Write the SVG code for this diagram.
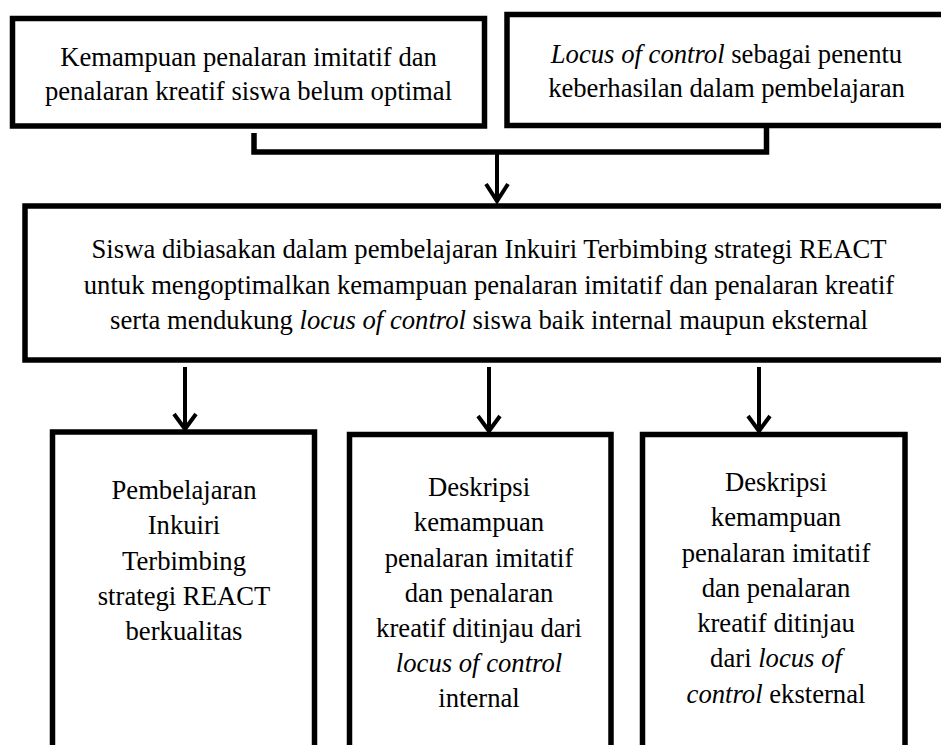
<svg xmlns="http://www.w3.org/2000/svg" width="941" height="745" viewBox="0 0 941 745">
<style>
.box{fill:#fff;stroke:#000;stroke-width:5.5}
.t{font-family:"Liberation Serif","Times New Roman",serif;font-size:26.67px;fill:#000;text-anchor:middle}
.i{font-style:italic}
.con{fill:none;stroke:#000}
.br{stroke-width:5.5;stroke-linejoin:miter}
.ar{stroke-width:4}
.hd{stroke-width:4;stroke-linejoin:miter}
</style>
<rect width="941" height="745" fill="#fff"/>
<g id="connectors">
<path class="con br" d="M254,133 V152 H766.5 V127"/>
<path class="con ar" d="M497,152 V201"/>
<polyline class="con hd" points="486,184 497,201 508,184"/>
<path class="con ar" d="M185,367 V428"/>
<polyline class="con hd" points="174,414 185,429 196,414"/>
<path class="con ar" d="M489,367 V430"/>
<polyline class="con hd" points="478,416 489,431 500,416"/>
<path class="con ar" d="M759,367 V430"/>
<polyline class="con hd" points="748,416 759,431 770,416"/>
</g>
<g id="n1">
<rect class="box" x="12.5" y="18.5" width="472" height="107.5"/>
<text class="t" x="248.5" y="66">Kemampuan penalaran imitatif dan</text>
<text class="t" x="248.5" y="100">penalaran kreatif siswa belum optimal</text>
</g>
<g id="n2">
<rect class="box" x="507" y="14.5" width="440" height="111"/>
<text class="t" x="726.5" y="63"><tspan class="i">Locus of control</tspan> sebagai penentu</text>
<text class="t" x="726.5" y="97">keberhasilan dalam pembelajaran</text>
</g>
<g id="n3">
<rect class="box" x="25" y="206" width="930" height="154"/>
<text class="t" x="489" y="258">Siswa dibiasakan dalam pembelajaran Inkuiri Terbimbing strategi REACT</text>
<text class="t" x="489" y="293.5">untuk mengoptimalkan kemampuan penalaran imitatif dan penalaran kreatif</text>
<text class="t" x="489" y="329">serta mendukung <tspan class="i">locus of control</tspan> siswa baik internal maupun eksternal</text>
</g>
<g id="n4">
<rect class="box" x="52.5" y="432" width="262" height="340"/>
<text class="t" x="184" y="499">Pembelajaran</text>
<text class="t" x="184" y="534">Inkuiri</text>
<text class="t" x="184" y="569.5">Terbimbing</text>
<text class="t" x="184" y="605">strategi REACT</text>
<text class="t" x="184" y="640">berkualitas</text>
</g>
<g id="n5">
<rect class="box" x="349.5" y="434.5" width="261.5" height="340"/>
<text class="t" x="479" y="495.5">Deskripsi</text>
<text class="t" x="479" y="531">kemampuan</text>
<text class="t" x="479" y="566.5">penalaran imitatif</text>
<text class="t" x="479" y="602">dan penalaran</text>
<text class="t" x="479" y="637">kreatif ditinjau dari</text>
<text class="t i" x="479" y="672">locus of control</text>
<text class="t" x="479" y="707">internal</text>
</g>
<g id="n6">
<rect class="box" x="642.5" y="434.5" width="262.5" height="340"/>
<text class="t" x="776" y="491">Deskripsi</text>
<text class="t" x="776" y="526">kemampuan</text>
<text class="t" x="776" y="561.5">penalaran imitatif</text>
<text class="t" x="776" y="597">dan penalaran</text>
<text class="t" x="776" y="632">kreatif ditinjau</text>
<text class="t" x="776" y="667">dari <tspan class="i">locus of</tspan></text>
<text class="t" x="776" y="702.5"><tspan class="i">control</tspan> eksternal</text>
</g>
</svg>
